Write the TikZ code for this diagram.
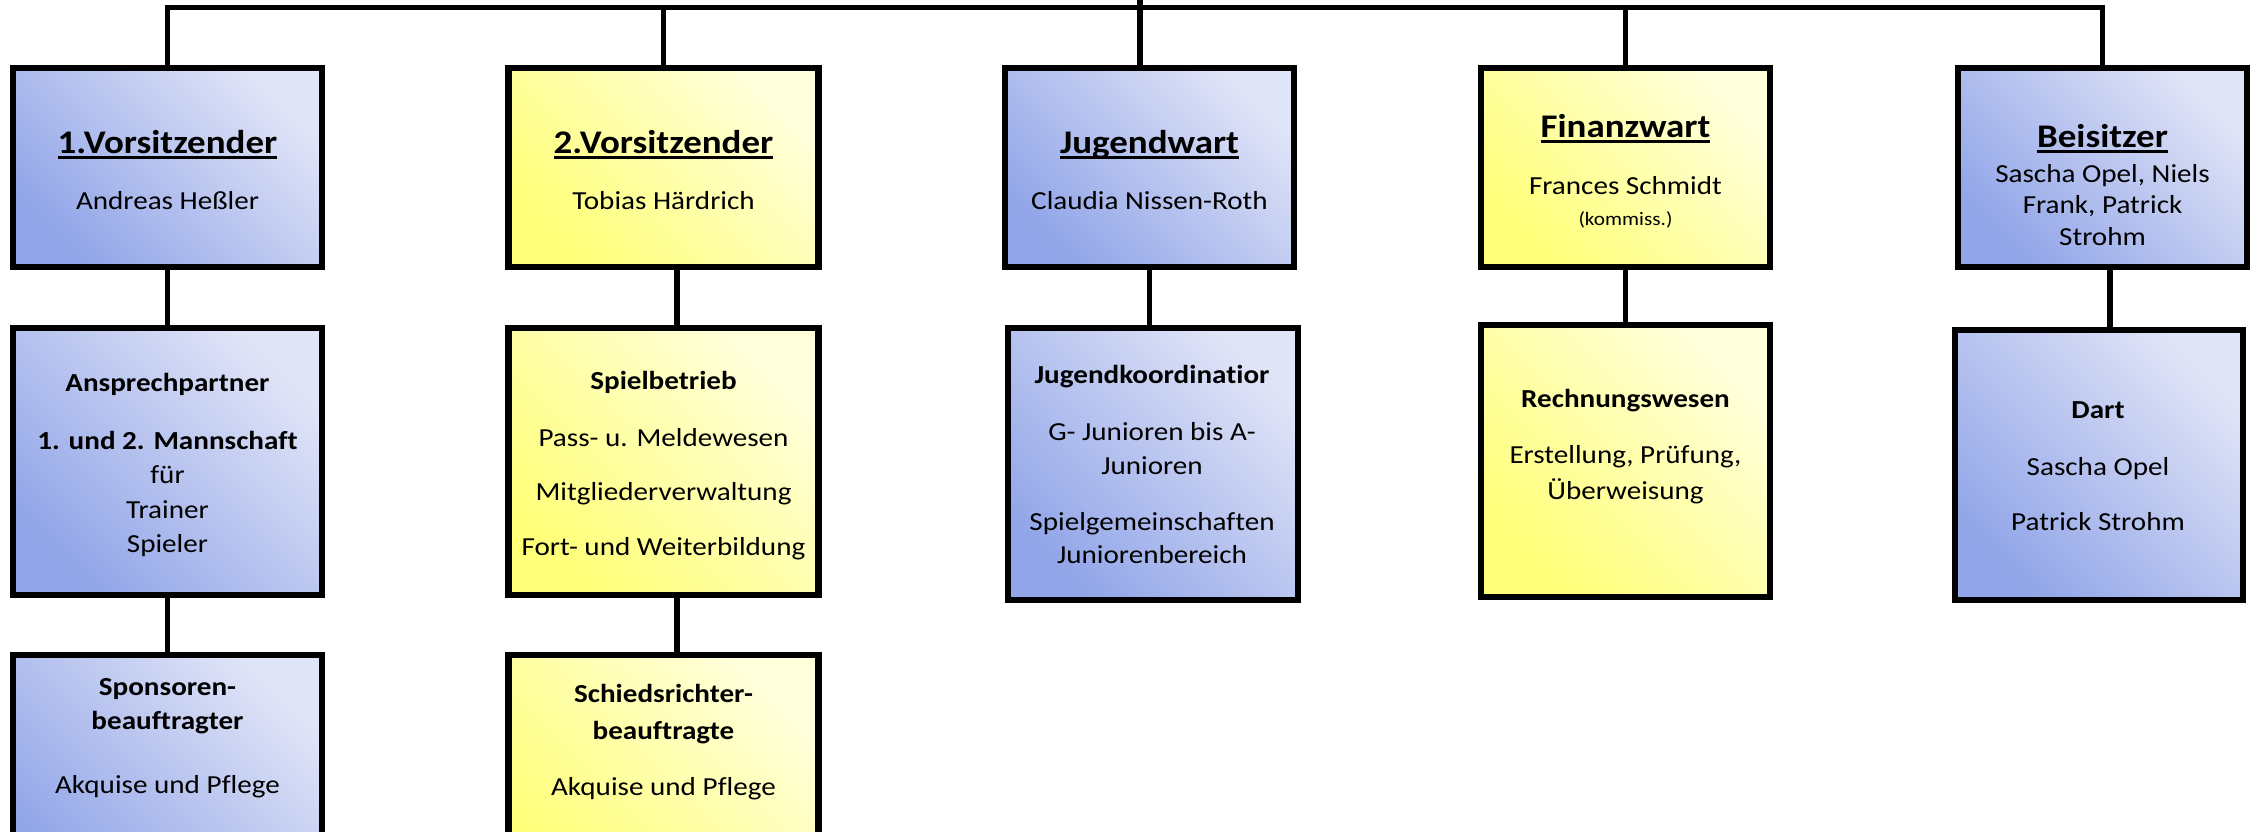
\documentclass[tikz,border=0pt]{standalone}
\usepackage{fontspec}
\setmainfont{Carlito}[FakeStretch=1.12, Ligatures=NoCommon]
\usetikzlibrary{calc}
\definecolor{bdark}{RGB}{145,165,232}
\definecolor{blight}{RGB}{224,228,247}
\definecolor{ydark}{RGB}{255,255,120}
\definecolor{ylight}{RGB}{255,255,220}
\newcommand\myul[1]{\setbox0\hbox{#1}\rlap{\rule[-0.17em]{\wd0}{0.09em}}\box0}
\tikzset{
  orgbox/.style={draw=black, line width=6.5pt, rectangle, inner sep=0pt},
  bluebox/.style={orgbox, top color=blight, bottom color=bdark, shading angle=-45},
  yellowbox/.style={orgbox, top color=ylight, bottom color=ydark, shading angle=-45},
  conn/.style={line width=5.5pt, line join=miter},
  ttl/.style={font=\fontsize{33}{40}\selectfont\bfseries, anchor=base, inner sep=0pt},
  txt/.style={font=\fontsize{26}{32}\selectfont, anchor=base, inner sep=0pt},
  btxt/.style={font=\fontsize{26}{32}\selectfont\bfseries, anchor=base, inner sep=0pt},
  smalltxt/.style={font=\fontsize{19}{23}\selectfont, anchor=base, inner sep=0pt},
}
\begin{document}
\begin{tikzpicture}[x=1pt,y=-1pt]
\useasboundingbox (0,0) rectangle (2259,831);
% row 1
\node[bluebox, minimum width=309pt, minimum height=199pt] (b1) at (167.5,167.5) {};
\node[yellowbox, minimum width=310pt, minimum height=199pt] (b2) at (663.5,167.5) {};
\node[bluebox, minimum width=289pt, minimum height=199pt] (b3) at (1149.5,167.5) {};
\node[yellowbox, minimum width=289pt, minimum height=199pt] (b4) at (1625.5,167.5) {};
\node[bluebox, minimum width=289pt, minimum height=199pt] (b5) at (2102.5,167.5) {};
% row 2
\node[bluebox, minimum width=309pt, minimum height=267pt] (b1b) at (167.5,461.5) {};
\node[yellowbox, minimum width=310pt, minimum height=267pt] (b2b) at (663.5,461.5) {};
\node[bluebox, minimum width=290pt, minimum height=272pt] (b3b) at (1153,464) {};
\node[yellowbox, minimum width=289pt, minimum height=272pt] (b4b) at (1625.5,461) {};
\node[bluebox, minimum width=288pt, minimum height=270pt] (b5b) at (2099,465) {};
% row 3
\node[bluebox, minimum width=309pt, minimum height=245pt] (b1c) at (167.5,777.5) {};
\node[yellowbox, minimum width=310pt, minimum height=245pt] (b2c) at (663.5,777.5) {};
% connectors
\coordinate (stub) at (1140,0);
\coordinate (hl) at (167.5,7.5);
\coordinate (hr) at (2102.5,7.5);
\draw[conn] (b1.north) -- (hl) -- (hr) -- (b5.north);
\draw[conn] (b2.north) -- (b2.north |- hl);
\draw[conn] (stub) -- (stub |- b3.north);
\draw[conn] (b4.north) -- (b4.north |- hl);
\draw[conn] (b1.south) -- (b1b.north);
\coordinate (c2) at ($(b2.south)+(13.5,0)$);
\draw[conn] (c2) -- (c2 |- b2b.north);
\draw[conn] (b3.south) -- (b3.south |- b3b.north);
\draw[conn] (b4.south) -- (b4.south |- b4b.north);
\coordinate (c5) at ($(b5.south)+(7.5,0)$);
\draw[conn] (c5) -- (c5 |- b5b.north);
\draw[conn] (b1b.south) -- (b1c.north);
\coordinate (c2b) at ($(b2b.south)+(13.5,0)$);
\draw[conn] (c2b) -- (c2b |- b2c.north);
% texts row 1
\node[ttl] (t1a) at (167.5,153) {\myul{1.Vorsitzender}};
\node[txt] (t1b) at (167.5,209) {Andreas Heßler};
\node[ttl] (t2a) at (663.5,153) {\myul{2.Vorsitzender}};
\node[txt] (t2b) at (663.5,209) {Tobias Härdrich};
\node[ttl] (t3a) at (1149.5,153) {\myul{Jugendwart}};
\node[txt] (t3b) at (1149.5,209) {Claudia Nissen-Roth};
\node[ttl] (t4a) at (1625.5,137) {\myul{Finanzwart}};
\node[txt] (t4b) at (1625.5,194) {Frances Schmidt};
\node[smalltxt] (t4c) at (1625.5,225) {(kommiss.)};
\node[ttl] (t5a) at (2102.5,147) {\myul{Beisitzer}};
\node[txt] (t5b) at (2102.5,182) {Sascha Opel, Niels};
\node[txt] (t5c) at (2102.5,213) {Frank, Patrick};
\node[txt] (t5d) at (2102.5,245) {Strohm};
% texts row 2
\node[btxt] (u1a) at (167.5,391) {Ansprechpartner};
\node[btxt] (u1b) at (167.5,449) {1. und 2. Mannschaft};
\node[txt] (u1c) at (167.5,483) {für};
\node[txt] (u1d) at (167.5,518) {Trainer};
\node[txt] (u1e) at (167.5,552) {Spieler};
\node[btxt] (u2a) at (663.5,389) {Spielbetrieb};
\node[txt] (u2b) at (663.5,446) {Pass- u. Meldewesen};
\node[txt] (u2c) at (663.5,500) {Mitgliederverwaltung};
\node[txt] (u2d) at (663.5,555) {Fort- und Weiterbildung};
\node[btxt] (u3a) at (1152,383) {Jugendkoordinatior};
\node[txt] (u3b) at (1152,440) {G- Junioren bis A-};
\node[txt] (u3c) at (1152,474) {Junioren};
\node[txt] (u3d) at (1152,530) {Spielgemeinschaften};
\node[txt] (u3e) at (1152,563) {Juniorenbereich};
\node[btxt] (u4a) at (1625.5,407) {Rechnungswesen};
\node[txt] (u4b) at (1625.5,463) {Erstellung, Prüfung,};
\node[txt] (u4c) at (1625.5,499) {Überweisung};
\node[btxt] (u5a) at (2098,418) {Dart};
\node[txt] (u5b) at (2098,475) {Sascha Opel};
\node[txt] (u5c) at (2098,530) {Patrick Strohm};
% texts row 3
\node[btxt] (v1a) at (167.5,695) {Sponsoren-};
\node[btxt] (v1b) at (167.5,729) {beauftragter};
\node[txt] (v1c) at (167.5,793) {Akquise und Pflege};
\node[btxt] (v2a) at (663.5,702) {Schiedsrichter-};
\node[btxt] (v2b) at (663.5,739) {beauftragte};
\node[txt] (v2c) at (663.5,795) {Akquise und Pflege};
\end{tikzpicture}
\end{document}
